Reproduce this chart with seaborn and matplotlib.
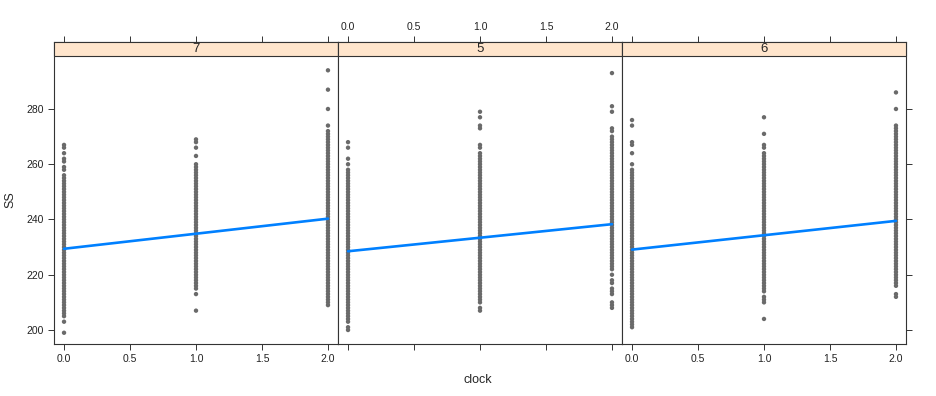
import pandas as pd
import seaborn as sns
import matplotlib.pyplot as plt
from matplotlib.patches import Rectangle

panels = ['7', '5', '6']
clock_levels = [0.0, 1.0, 2.0]

# SS values (panel / clock)
ss_7_c0 = [199, 203, 205, 206, 207, 208, 209, 210, 211, 212, 213, 214, 215, 216, 217, 218, 219, 220,
           221, 222, 223, 224, 225, 226, 227, 228, 229, 230, 231, 232, 233, 234, 235, 236, 237, 238,
           239, 240, 241, 242, 243, 244, 245, 246, 247, 248, 249, 250, 251, 252, 253, 254, 255, 256,
           258, 259, 261, 262, 264, 266, 267]
ss_7_c1 = [207, 213, 215, 216, 217, 218, 219, 220, 221, 222, 223, 224, 225, 226, 227, 228, 229, 230,
           231, 232, 233, 234, 235, 236, 237, 238, 239, 240, 241, 242, 243, 244, 245, 246, 247, 248,
           249, 250, 251, 252, 253, 254, 255, 256, 257, 258, 259, 260, 263, 266, 268, 269]
ss_7_c2 = [209, 210, 211, 212, 213, 214, 215, 216, 217, 218, 219, 220, 221, 222, 223, 224, 225, 226,
           227, 228, 229, 230, 231, 232, 233, 234, 235, 236, 237, 238, 239, 240, 241, 242, 243, 244,
           245, 246, 247, 248, 249, 250, 251, 252, 253, 254, 255, 256, 257, 258, 259, 260, 261, 262,
           263, 264, 265, 266, 267, 268, 269, 270, 271, 272, 274, 280, 287, 294]
ss_5_c0 = [200, 201, 203, 204, 205, 206, 207, 208, 209, 210, 211, 212, 213, 214, 215, 216, 217, 218,
           219, 220, 221, 222, 223, 224, 225, 226, 227, 228, 229, 230, 231, 232, 233, 234, 235, 236,
           237, 238, 239, 240, 241, 242, 243, 244, 245, 246, 247, 248, 249, 250, 251, 252, 253, 254,
           255, 256, 257, 258, 260, 262, 266, 268]
ss_5_c1 = [207, 208, 210, 211, 212, 213, 214, 215, 216, 217, 218, 219, 220, 221, 222, 223, 224, 225,
           226, 227, 228, 229, 230, 231, 232, 233, 234, 235, 236, 237, 238, 239, 240, 241, 242, 243,
           244, 245, 246, 247, 248, 249, 250, 251, 252, 253, 254, 255, 256, 257, 258, 259, 260, 261,
           262, 263, 264, 266, 267, 273, 274, 277, 279]
ss_5_c2 = [208, 209, 210, 213, 214, 215, 217, 218, 220, 222, 223, 224, 225, 226, 227, 228, 229, 230,
           231, 232, 233, 234, 235, 236, 237, 238, 239, 240, 241, 242, 243, 244, 245, 246, 247, 248,
           249, 250, 251, 252, 253, 254, 255, 256, 257, 258, 259, 260, 261, 262, 263, 264, 265, 266,
           267, 268, 269, 270, 272, 273, 279, 281, 293]
ss_6_c0 = [201, 202, 203, 204, 205, 206, 207, 208, 209, 210, 211, 212, 213, 214, 215, 216, 217, 218,
           219, 220, 221, 222, 223, 224, 225, 226, 227, 228, 229, 230, 231, 232, 233, 234, 235, 236,
           237, 238, 239, 240, 241, 242, 243, 244, 245, 246, 247, 248, 249, 250, 251, 252, 253, 254,
           255, 256, 257, 258, 260, 264, 267, 268, 274, 276]
ss_6_c1 = [204, 210, 211, 212, 214, 215, 216, 217, 218, 219, 220, 221, 222, 223, 224, 225, 226, 227,
           228, 229, 230, 231, 232, 233, 234, 235, 236, 237, 238, 239, 240, 241, 242, 243, 244, 245,
           246, 247, 248, 249, 250, 251, 252, 253, 254, 255, 256, 257, 258, 259, 260, 261, 262, 263,
           264, 266, 267, 271, 277]
ss_6_c2 = [212, 213, 216, 217, 218, 219, 220, 221, 222, 223, 224, 225, 226, 227, 228, 229, 230, 231,
           232, 233, 234, 235, 236, 237, 238, 239, 240, 241, 242, 243, 244, 245, 246, 247, 248, 249,
           250, 251, 252, 253, 254, 255, 256, 257, 258, 259, 260, 261, 262, 263, 264, 265, 266, 267,
           268, 269, 270, 271, 272, 273, 274, 280, 286]

# fitted lines per panel
intercepts = [229.4, 228.5, 229.1]
slopes = [5.45, 4.9, 5.2]

columns = {
    '7': [ss_7_c0, ss_7_c1, ss_7_c2],
    '5': [ss_5_c0, ss_5_c1, ss_5_c2],
    '6': [ss_6_c0, ss_6_c1, ss_6_c2],
}
rows = []
for p in panels:
    for clk, vals in zip(clock_levels, columns[p]):
        for v in vals:
            rows.append({'panel': p, 'clock': clk, 'SS': v})
df = pd.DataFrame(rows)

sns.set_style('ticks')
plt.rcParams['font.family'] = ['Liberation Sans', 'DejaVu Sans']

W, H = 936, 396
g = sns.FacetGrid(df, col='panel', col_order=panels, height=H / 100,
                  aspect=(W / 3) / H, despine=False, sharex=True, sharey=True)
g.map_dataframe(sns.scatterplot, x='clock', y='SS', color='#6a6a6a', s=10,
                linewidth=0, edgecolor='none')
g.figure.set_size_inches(W / 100, H / 100)
g.figure.subplots_adjust(left=54 / W, right=906 / W, bottom=(H - 344) / H,
                         top=(H - 42) / H, wspace=0)

strip_h = 14 / 302
for i, (ax, p) in enumerate(zip(g.axes.flat, panels)):
    ax.plot([0, 2], [intercepts[i], intercepts[i] + 2 * slopes[i]],
            color='#0080ff', lw=1.9, zorder=4)
    ax.set_xlim(-0.076, 2.076)
    ax.set_ylim(194.93, 304.25)
    ax.set_xticks([0, 0.5, 1, 1.5, 2])
    ax.set_xticklabels(['0.0', '0.5', '1.0', '1.5', '2.0'])
    ax.set_yticks([200, 220, 240, 260, 280])
    ax.set_title('')
    ax.set_xlabel('')
    ax.set_ylabel('')
    for s in ax.spines.values():
        s.set_color('#333333')
        s.set_linewidth(0.8)
    ax.add_patch(Rectangle((0, 1 - strip_h), 1, strip_h, transform=ax.transAxes,
                           facecolor='#ffe5cc', edgecolor='#333333', lw=0.8,
                           zorder=5, clip_on=False))
    ax.text(0.5, 1 - strip_h / 2, p, transform=ax.transAxes, ha='center',
            va='center', fontsize=9.5, zorder=6)
    ax.tick_params(direction='out', length=4, width=0.7, color='#333333',
                   labelsize=7.5, labelcolor='#222222', pad=3,
                   top=True, bottom=True, left=(i == 0), right=(i == 2),
                   labeltop=(i == 1), labelbottom=(i != 1),
                   labelleft=(i == 0), labelright=False)

g.figure.text(10 / W, 1 - 200 / H, 'SS', rotation=90, ha='center', va='center',
              fontsize=9)
g.figure.text(478 / W, 16 / H, 'clock', ha='center', va='center', fontsize=9)

g.figure.savefig('out.png', dpi=100)
